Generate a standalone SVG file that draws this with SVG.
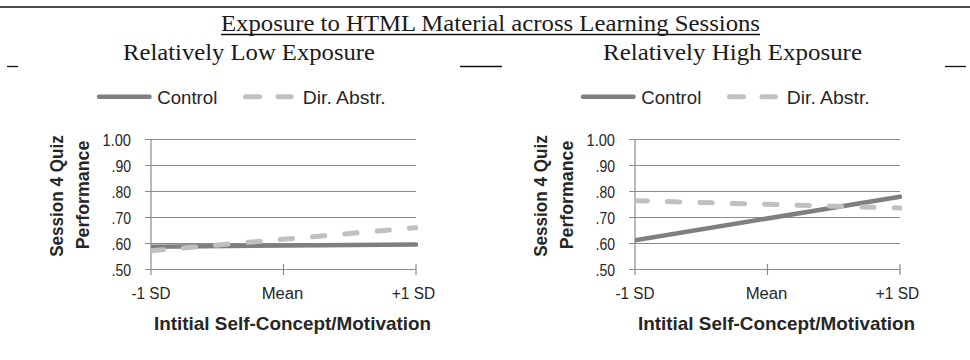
<svg xmlns="http://www.w3.org/2000/svg" width="970" height="360" viewBox="0 0 970 360">
<style>
.serif{font-family:"Liberation Serif","Times New Roman",serif;font-size:23px;fill:#1a1a1a}
.lbl{font-family:"Liberation Sans",Arial,sans-serif;fill:#262626}
.yl{font-size:16px;text-anchor:end}
.xl{font-size:16px;text-anchor:middle}
.leg{font-size:18px}
.ttl{font-size:19px;font-weight:bold;text-anchor:middle}
.rule{stroke:#111;stroke-width:1.3;fill:none}
.grid{stroke:#8c8c8c;stroke-width:1.2;fill:none}
.ctrl{stroke:#7f7f7f;stroke-width:4.5;stroke-linecap:round;fill:none}
.dir{stroke:#c0c0c0;stroke-width:5;stroke-linecap:round;fill:none}
.dash{stroke-dasharray:12.5 19.9}
</style>
<defs>
<clipPath id="plot"><rect x="151" y="130" width="267" height="150"/></clipPath>
</defs>
<g id="header">
<line class="rule" x1="0" y1="7" x2="970" y2="7"/>
<text class="serif" x="221" y="31" textLength="539" lengthAdjust="spacingAndGlyphs">Exposure to HTML Material across Learning Sessions</text>
<line class="rule" x1="221" y1="34.5" x2="760" y2="34.5"/>
<text class="serif" x="123" y="60" textLength="252" lengthAdjust="spacingAndGlyphs">Relatively Low Exposure</text>
<text class="serif" x="603" y="60" textLength="259" lengthAdjust="spacingAndGlyphs">Relatively High Exposure</text>
<line class="rule" x1="7" y1="66.5" x2="18" y2="66.5"/>
<line class="rule" x1="460" y1="66.5" x2="502" y2="66.5"/>
<line class="rule" x1="945" y1="66.5" x2="966" y2="66.5"/>
</g>
<g id="chart-low">
<g id="legend-low">
<line class="ctrl" x1="99" y1="96.7" x2="149.5" y2="96.7" stroke-width="4"/>
<text class="lbl leg" x="157.3" y="104" textLength="60" lengthAdjust="spacingAndGlyphs">Control</text>
<line class="dir" x1="245.5" y1="96.7" x2="259.5" y2="96.7" stroke-width="4.5"/>
<line class="dir" x1="278" y1="96.7" x2="291.3" y2="96.7" stroke-width="4.5"/>
<text class="lbl leg" x="302.7" y="104" textLength="83" lengthAdjust="spacingAndGlyphs">Dir. Abstr.</text>
</g>
<g id="axes-low">
<path class="grid" d="M145 139.5H416M145 165.5H416M145 191.5H416M145 217.5H416M145 243.5H416M145 269.5H416M151 139.5V275M283.5 264V275M416 264V275"/>
<text class="lbl yl" x="131" y="145.5" textLength="28.5" lengthAdjust="spacingAndGlyphs">1.00</text>
<text class="lbl yl" x="131" y="171.5" textLength="19.5" lengthAdjust="spacingAndGlyphs">.90</text>
<text class="lbl yl" x="131" y="197.5" textLength="19.5" lengthAdjust="spacingAndGlyphs">.80</text>
<text class="lbl yl" x="131" y="223.5" textLength="19.5" lengthAdjust="spacingAndGlyphs">.70</text>
<text class="lbl yl" x="131" y="249.5" textLength="19.5" lengthAdjust="spacingAndGlyphs">.60</text>
<text class="lbl yl" x="131" y="275.5" textLength="19.5" lengthAdjust="spacingAndGlyphs">.50</text>
<text class="lbl xl" x="151" y="299" textLength="39" lengthAdjust="spacingAndGlyphs">-1 SD</text>
<text class="lbl xl" x="282.5" y="299" textLength="41.7" lengthAdjust="spacingAndGlyphs">Mean</text>
<text class="lbl xl" x="413.5" y="299" textLength="43.3" lengthAdjust="spacingAndGlyphs">+1 SD</text>
<text class="lbl ttl" transform="translate(63,196) rotate(-90)" textLength="121.7" lengthAdjust="spacingAndGlyphs">Session 4 Quiz</text>
<text class="lbl ttl" transform="translate(89,195) rotate(-90)" textLength="108.6" lengthAdjust="spacingAndGlyphs">Performance</text>
<text class="lbl ttl" x="292.5" y="330" textLength="277" lengthAdjust="spacingAndGlyphs">Intitial Self-Concept/Motivation</text>
</g>
<g id="series-low" clip-path="url(#plot)">
<line class="ctrl" x1="151" y1="246.7" x2="416" y2="244.4"/>
<line class="dir dash" x1="151" y1="250.8" x2="416" y2="227.7"/>
</g>
</g>
<g id="chart-high" transform="translate(484,0)">
<g id="legend-high">
<line class="ctrl" x1="99" y1="96.7" x2="149.5" y2="96.7" stroke-width="4"/>
<text class="lbl leg" x="157.3" y="104" textLength="60" lengthAdjust="spacingAndGlyphs">Control</text>
<line class="dir" x1="245.5" y1="96.7" x2="259.5" y2="96.7" stroke-width="4.5"/>
<line class="dir" x1="278" y1="96.7" x2="291.3" y2="96.7" stroke-width="4.5"/>
<text class="lbl leg" x="302.7" y="104" textLength="83" lengthAdjust="spacingAndGlyphs">Dir. Abstr.</text>
</g>
<g id="axes-high">
<path class="grid" d="M145 139.5H416M145 165.5H416M145 191.5H416M145 217.5H416M145 243.5H416M145 269.5H416M151 139.5V275M283.5 264V275M416 264V275"/>
<text class="lbl yl" x="131" y="145.5" textLength="28.5" lengthAdjust="spacingAndGlyphs">1.00</text>
<text class="lbl yl" x="131" y="171.5" textLength="19.5" lengthAdjust="spacingAndGlyphs">.90</text>
<text class="lbl yl" x="131" y="197.5" textLength="19.5" lengthAdjust="spacingAndGlyphs">.80</text>
<text class="lbl yl" x="131" y="223.5" textLength="19.5" lengthAdjust="spacingAndGlyphs">.70</text>
<text class="lbl yl" x="131" y="249.5" textLength="19.5" lengthAdjust="spacingAndGlyphs">.60</text>
<text class="lbl yl" x="131" y="275.5" textLength="19.5" lengthAdjust="spacingAndGlyphs">.50</text>
<text class="lbl xl" x="151" y="299" textLength="39" lengthAdjust="spacingAndGlyphs">-1 SD</text>
<text class="lbl xl" x="282.5" y="299" textLength="41.7" lengthAdjust="spacingAndGlyphs">Mean</text>
<text class="lbl xl" x="413.5" y="299" textLength="43.3" lengthAdjust="spacingAndGlyphs">+1 SD</text>
<text class="lbl ttl" transform="translate(63,196) rotate(-90)" textLength="121.7" lengthAdjust="spacingAndGlyphs">Session 4 Quiz</text>
<text class="lbl ttl" transform="translate(89,195) rotate(-90)" textLength="108.6" lengthAdjust="spacingAndGlyphs">Performance</text>
<text class="lbl ttl" x="292.5" y="330" textLength="277" lengthAdjust="spacingAndGlyphs">Intitial Self-Concept/Motivation</text>
</g>
<g id="series-high" clip-path="url(#plot)">
<line class="ctrl" x1="151" y1="240.3" x2="416" y2="196.7"/>
<line class="dir dash" x1="151" y1="200.7" x2="416" y2="208"/>
</g>
</g>
</svg>
